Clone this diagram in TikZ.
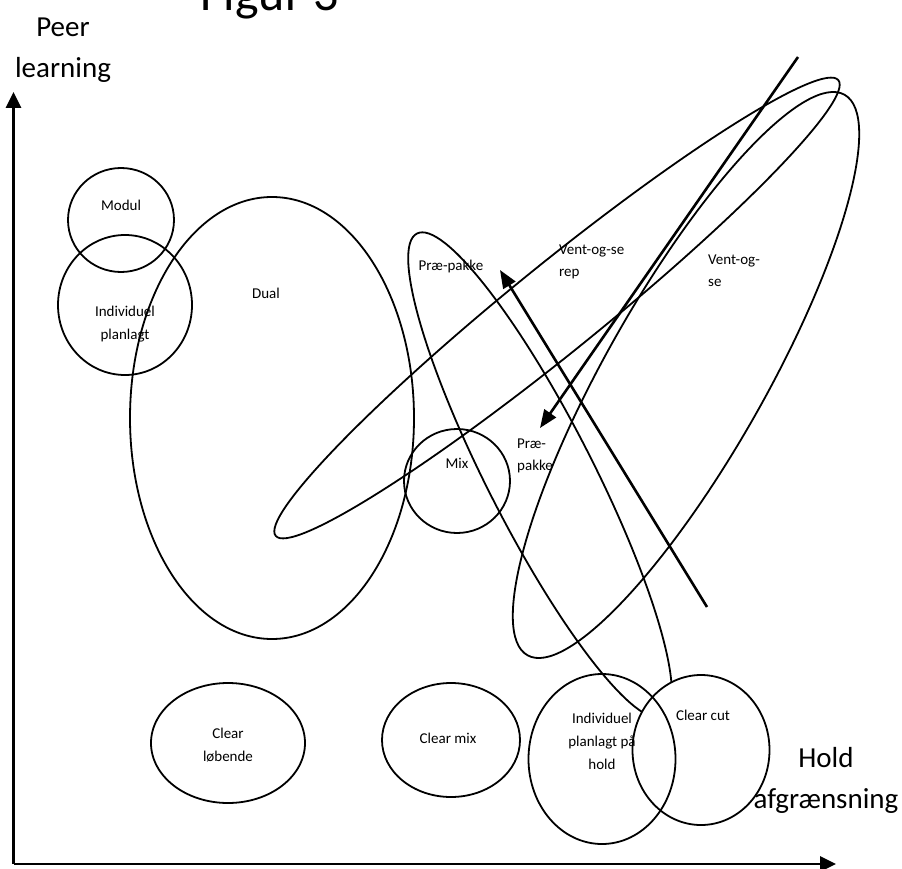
\documentclass[tikz,border=0pt]{standalone}
\usepackage{fontspec}
\setmainfont{Carlito}
\usetikzlibrary{shapes.geometric,arrows.meta}
\begin{document}
\begin{tikzpicture}[x=1pt,y=-1pt,
  oval/.style={draw, ellipse, line width=1.8pt, inner sep=0pt},
  small/.style={font=\fontsize{15}{23}\selectfont, inner sep=0pt, align=center},
  smallL/.style={font=\fontsize{15}{22}\selectfont, inner sep=0pt, align=left, anchor=north west},
  big/.style={font=\fontsize{29}{41}\selectfont, inner sep=0pt, align=center},
  arrowline/.style={line width=2.6pt, -{Triangle[length=18pt,width=14pt]}},
  axis/.style={line width=2.8pt, -{Triangle[length=16pt,width=15pt]}}]
\useasboundingbox (0,0) rectangle (902,869);
% title (cut at top, as in the reference)
\node[font=\fontsize{50}{60}\selectfont, anchor=base, inner sep=0pt] (title) at (270,11) {Figur 3};
% axes
\coordinate (origin) at (13.5,864);
\coordinate (ytip) at (13.5,92);
\coordinate (xtip) at (836,864);
\draw[axis] (origin) -- (ytip);
\draw[axis] (origin) -- (xtip);
\node[big] (peer) at (63,50) {Peer\\learning};
\node[big] (hold) at (826,780) {Hold\\afgrænsning};
% ellipses
\node[oval, minimum width=106pt, minimum height=104pt] (modul) at (121,220) {};
\node[oval, minimum width=134pt, minimum height=140pt] (indiv) at (125,305) {};
\node[oval, minimum width=284pt, minimum height=442pt] (dual) at (272,418) {};
\node[oval, minimum width=106pt, minimum height=104pt] (mix) at (457,481) {};
\node[oval, minimum width=154pt, minimum height=120pt] (clearl) at (228,743) {};
\node[oval, minimum width=138pt, minimum height=114pt] (clearm) at (451,740) {};
\node[oval, minimum width=724pt, minimum height=88pt, rotate=39] (vosr) at (557,308) {};
\node[oval, minimum width=644pt, minimum height=160pt, rotate=60.5] (vos) at (686,375) {};
\node[oval, minimum width=542pt, minimum height=106pt, rotate=-63] (prae) at (540,475) {};
\node[oval, fill=white, minimum width=137pt, minimum height=150pt] (clearc) at (701,750) {};
\node[oval, minimum width=147pt, minimum height=170pt] (iph) at (602,759) {};
% arrows
\coordinate (a1s) at (707,607);
\coordinate (a1e) at (500,270);
\coordinate (a2s) at (798,57);
\coordinate (a2e) at (540,428);
\draw[arrowline] (a1s) -- (a1e);
\draw[arrowline] (a2s) -- (a2e);
% labels
\node[small] (lmodul) at (121,205) {Modul};
\node[small] (lindiv) at (125,324) {Individuel\\planlagt};
\node[small] (ldual) at (266,293) {Dual};
\node[small] (lprae) at (451,267) {Præ-pakke};
\node[smallL] (lvosr) at (559,245) {Vent-og-se\\rep};
\node[smallL] (lvos) at (708,255) {Vent-og-\\se};
\node[small] (lmix) at (457,463) {Mix};
\node[smallL] (lprae2) at (517,439) {Præ-\\pakke};
\node[small] (lclearl) at (228,745) {Clear\\løbende};
\node[small] (lclearm) at (448,738) {Clear mix};
\node[small] (liph) at (602,741) {Individuel\\planlagt på\\hold};
\node[small] (lclearc) at (703,715) {Clear cut};
\end{tikzpicture}
\end{document}
